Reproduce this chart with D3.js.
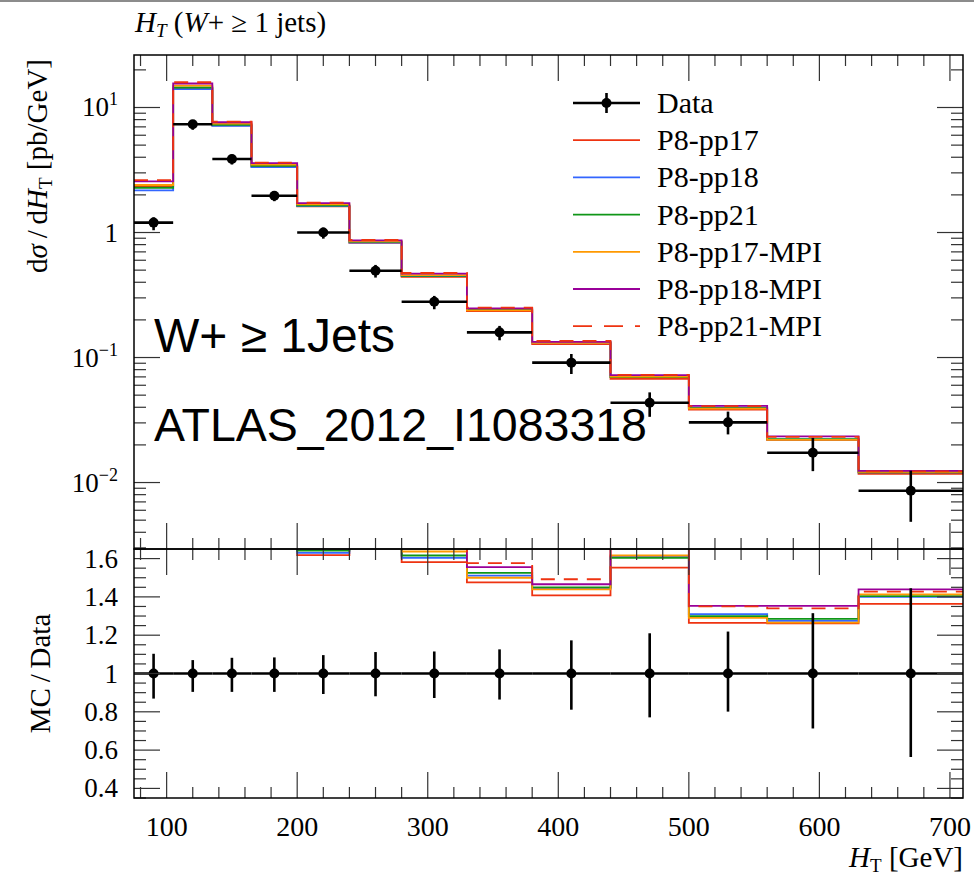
<!DOCTYPE html>
<html>
<head>
<meta charset="utf-8">
<script src="https://cdn.jsdelivr.net/npm/d3@7"></script>
<style>
body { margin: 0; background: #fff; }
text { font-family: "Liberation Serif", "DejaVu Serif", serif; fill: #000; }
</style>
</head>
<body>
<svg id="chart" width="974" height="876"></svg>
<script>
/* bins of H_T [GeV] */
var BIN_EDGES = [75, 105, 135, 165, 200, 240, 280, 330, 380, 440, 500, 560, 630, 710];

/* data, dsigma/dHT [pb/GeV] and relative errors */
var DATA_VALUES = [1.20, 7.34, 3.87, 1.97, 1.00, 0.495, 0.279, 0.159, 0.091, 0.0435, 0.0303, 0.0173, 0.0086];
var DATA_ERR_UP = [0.103, 0.070, 0.082, 0.084, 0.096, 0.112, 0.115, 0.126, 0.173, 0.210, 0.219, 0.315, 0.445];
var DATA_ERR_DOWN = [0.131, 0.096, 0.096, 0.096, 0.107, 0.119, 0.128, 0.136, 0.189, 0.229, 0.199, 0.287, 0.436];

/* MC / Data per bin */
var PP17 = [1.95, 1.95, 1.86, 1.71, 1.618, 1.67, 1.581, 1.476, 1.408, 1.553, 1.264, 1.262, 1.364];
var PP18 = [1.81, 1.91, 1.84, 1.69, 1.630, 1.68, 1.604, 1.511, 1.445, 1.610, 1.310, 1.275, 1.400];
var PP21 = [1.90, 1.97, 1.88, 1.73, 1.642, 1.70, 1.616, 1.525, 1.450, 1.604, 1.300, 1.285, 1.404];
var PP17_MPI = [2.00, 2.04, 1.92, 1.77, 1.68, 1.72, 1.637, 1.500, 1.439, 1.616, 1.290, 1.266, 1.413];
var PP18_MPI = [2.14, 2.12, 1.97, 1.82, 1.72, 1.75, 1.68, 1.555, 1.466, 1.66, 1.353, 1.353, 1.439];
var PP21_MPI = [2.19, 2.17, 1.99, 1.84, 1.73, 1.76, 1.70, 1.576, 1.492, 1.67, 1.350, 1.340, 1.427];

var SERIES_NAMES = ["P8-pp17", "P8-pp18", "P8-pp21", "P8-pp17-MPI", "P8-pp18-MPI", "P8-pp21-MPI"];
var SERIES_RATIOS = [PP17, PP18, PP21, PP17_MPI, PP18_MPI, PP21_MPI];
var SERIES_COLORS = ["#ee3311", "#3366ff", "#109618", "#ff9900", "#990099", "#ee3311"];
var SERIES_DASH = [null, null, null, null, null, "14,9"];

var X_TICK_LABELS = [100, 200, 300, 400, 500, 600, 700];
var MAIN_TICK_LABELS = [0.01, 0.1, 1, 10];
var RATIO_TICK_LABELS = [0.4, 0.6, 0.8, 1, 1.2, 1.4, 1.6];

var svg = d3.select("#chart");

var left = 134, right = 963;
var mainTop = 55, mainBottom = 549, ratioBottom = 798;

var x = d3.scaleLinear().domain([75, 710]).range([left, right]);
var y = d3.scaleLog().domain([0.00294, 26.3]).range([mainBottom, mainTop]);
var yr = d3.scaleLinear().domain([0.35, 1.65]).range([ratioBottom, mainBottom]);

/* top grey strip */
svg.append("rect").attr("x", 0).attr("y", 0).attr("width", 974).attr("height", 2).attr("fill", "#8c8c8c");

/* clip paths */
var defs = svg.append("defs");
defs.append("clipPath").attr("id", "clipMain").append("rect")
    .attr("x", left).attr("y", mainTop).attr("width", right - left).attr("height", mainBottom - mainTop);
defs.append("clipPath").attr("id", "clipRatio").append("rect")
    .attr("x", left).attr("y", mainBottom).attr("width", right - left).attr("height", ratioBottom - mainBottom);

function stepPoints(values) {
    var pts = [];
    values.forEach(function (v, i) {
        pts.push([BIN_EDGES[i], v]);
        pts.push([BIN_EDGES[i + 1], v]);
    });
    return pts;
}

/* big labels inside */
svg.append("text").attr("x", 154).attr("y", 352)
    .style("font-family", "'Liberation Sans', Arial, sans-serif").style("font-size", "48px").attr("fill", "#111")
    .text("W+ \u2265 1Jets");
svg.append("text").attr("x", 154).attr("y", 441)
    .style("font-family", "'Liberation Sans', Arial, sans-serif").style("font-size", "46.5px").attr("fill", "#111")
    .text("ATLAS_2012_I1083318");

/* MC histograms */
var gMain = svg.append("g").attr("clip-path", "url(#clipMain)");
var gRatio = svg.append("g").attr("clip-path", "url(#clipRatio)");

var mainLine = d3.line().x(function (d) { return x(d[0]); }).y(function (d) { return y(d[1]); });
var ratioLine = d3.line().x(function (d) { return x(d[0]); }).y(function (d) { return yr(d[1]); });

SERIES_RATIOS.forEach(function (ratios, s) {
    var abs = ratios.map(function (r, i) { return r * DATA_VALUES[i]; });
    gMain.append("path")
        .attr("d", mainLine(stepPoints(abs)))
        .attr("fill", "none").attr("stroke", SERIES_COLORS[s]).attr("stroke-width", 1.8)
        .attr("stroke-dasharray", SERIES_DASH[s]);
    gRatio.append("path")
        .attr("d", ratioLine(stepPoints(ratios)))
        .attr("fill", "none").attr("stroke", SERIES_COLORS[s]).attr("stroke-width", 1.8)
        .attr("stroke-dasharray", SERIES_DASH[s]);
});

/* data points */
DATA_VALUES.forEach(function (v, i) {
    var cx = x((BIN_EDGES[i] + BIN_EDGES[i + 1]) / 2);
    gMain.append("line").attr("x1", x(BIN_EDGES[i])).attr("x2", x(BIN_EDGES[i + 1]))
        .attr("y1", y(v)).attr("y2", y(v)).attr("stroke", "#000").attr("stroke-width", 2.6);
    gMain.append("line").attr("x1", cx).attr("x2", cx)
        .attr("y1", y(v * (1 + DATA_ERR_UP[i]))).attr("y2", y(v * (1 - DATA_ERR_DOWN[i])))
        .attr("stroke", "#000").attr("stroke-width", 2.6);
    gMain.append("circle").attr("cx", cx).attr("cy", y(v)).attr("r", 5).attr("fill", "#000");

    gRatio.append("line").attr("x1", x(BIN_EDGES[i])).attr("x2", x(BIN_EDGES[i + 1]))
        .attr("y1", yr(1)).attr("y2", yr(1)).attr("stroke", "#000").attr("stroke-width", 2.6);
    gRatio.append("line").attr("x1", cx).attr("x2", cx)
        .attr("y1", yr(1 + DATA_ERR_UP[i])).attr("y2", yr(1 - DATA_ERR_DOWN[i]))
        .attr("stroke", "#000").attr("stroke-width", 2.6);
    gRatio.append("circle").attr("cx", cx).attr("cy", yr(1)).attr("r", 5).attr("fill", "#000");
});

/* ticks */
var gTicks = svg.append("g").attr("stroke", "#333").attr("stroke-width", 1.2);

function xTicks(yPos, dir) {
    d3.range(80, 711, 20).forEach(function (v) {
        var len = (v % 100 === 0) ? 26 : 11;
        gTicks.append("line").attr("x1", x(v)).attr("x2", x(v))
            .attr("y1", yPos).attr("y2", yPos + dir * len);
    });
}
xTicks(mainTop, 1);
xTicks(mainBottom, -1);
xTicks(mainBottom, 1);
xTicks(ratioBottom, -1);

function yTicks(scale, values) {
    values.forEach(function (t) {
        var len = t.major ? 26 : 12;
        gTicks.append("line").attr("x1", left).attr("x2", left + len)
            .attr("y1", scale(t.v)).attr("y2", scale(t.v));
        gTicks.append("line").attr("x1", right).attr("x2", right - len)
            .attr("y1", scale(t.v)).attr("y2", scale(t.v));
    });
}

var logTicks = [];
[-3, -2, -1, 0, 1].forEach(function (p) {
    for (var k = 1; k <= 9; k++) {
        var v = k * Math.pow(10, p);
        if (v >= 0.00294 && v <= 26.3) logTicks.push({ v: v, major: k === 1 });
    }
});
yTicks(y, logTicks);

var linTicks = d3.range(0, 27).map(function (i) {
    var v = 0.35 + i * 0.05;
    return { v: v, major: Math.abs(Math.round(v * 10) - v * 10) < 1e-6 && Math.round(v * 10) % 2 === 0 };
});
yTicks(yr, linTicks);

/* frames */
svg.append("rect").attr("x", left).attr("y", mainTop).attr("width", right - left).attr("height", mainBottom - mainTop)
    .attr("fill", "none").attr("stroke", "#000").attr("stroke-width", 1.5);
svg.append("rect").attr("x", left).attr("y", mainBottom).attr("width", right - left).attr("height", ratioBottom - mainBottom)
    .attr("fill", "none").attr("stroke", "#000").attr("stroke-width", 1.5);

/* tick labels */
X_TICK_LABELS.forEach(function (v) {
    svg.append("text").attr("x", x(v)).attr("y", 836).attr("text-anchor", "middle")
        .style("font-size", "28px").text(v);
});

MAIN_TICK_LABELS.forEach(function (v) {
    var p = Math.round(Math.log10(v));
    var t = svg.append("text").attr("x", 118).attr("y", y(v) + 9).attr("text-anchor", "end").style("font-size", "27px");
    if (p === 0) {
        t.text("1");
    } else {
        t.append("tspan").text("10");
        t.append("tspan").attr("dy", -11).style("font-size", "18px").text(p < 0 ? "\u2212" + (-p) : String(p));
    }
});

RATIO_TICK_LABELS.forEach(function (v) {
    svg.append("text").attr("x", 118).attr("y", yr(v) + 9).attr("text-anchor", "end")
        .style("font-size", "27px").text(v === 1 ? "1" : v.toFixed(1));
});

/* titles */
var title = svg.append("text").attr("x", 135).attr("y", 32).style("font-size", "29px");
title.append("tspan").style("font-style", "italic").text("H");
title.append("tspan").style("font-style", "italic").style("font-size", "19px").attr("dy", 5).text("T");
title.append("tspan").attr("dy", -5).text(" (");
title.append("tspan").style("font-style", "italic").text("W");
title.append("tspan").text("+ \u2265 1 jets)");

var yTitle = svg.append("text").attr("transform", "translate(47,59) rotate(-90)")
    .attr("text-anchor", "end").style("font-size", "29px");
yTitle.append("tspan").text("d");
yTitle.append("tspan").style("font-style", "italic").text("\u03c3");
yTitle.append("tspan").text("\u2009/\u2009d");
yTitle.append("tspan").style("font-style", "italic").text("H");
yTitle.append("tspan").style("font-size", "19px").attr("dy", 5).text("T");
yTitle.append("tspan").attr("dy", -5).text(" [pb/GeV]");

svg.append("text").attr("transform", "translate(50," + yr(1) + ") rotate(-90)")
    .attr("text-anchor", "middle").style("font-size", "29px").text("MC\u2009/\u2009Data");

var xTitle = svg.append("text").attr("x", right).attr("y", 867).attr("text-anchor", "end").style("font-size", "29px");
xTitle.append("tspan").style("font-style", "italic").text("H");
xTitle.append("tspan").style("font-size", "19px").attr("dy", 5).text("T");
xTitle.append("tspan").attr("dy", -5).text(" [GeV]");

/* legend */
var legend = svg.append("g");
var rowY = function (i) { return 103 + i * 37.2; };
legend.append("line").attr("x1", 573).attr("x2", 640).attr("y1", rowY(0)).attr("y2", rowY(0))
    .attr("stroke", "#000").attr("stroke-width", 2.6);
legend.append("line").attr("x1", 606.5).attr("x2", 606.5).attr("y1", rowY(0) - 10).attr("y2", rowY(0) + 10)
    .attr("stroke", "#000").attr("stroke-width", 2.6);
legend.append("circle").attr("cx", 606.5).attr("cy", rowY(0)).attr("r", 5).attr("fill", "#000");
legend.append("text").attr("x", 657).attr("y", rowY(0) + 10).style("font-size", "30px").text("Data");

SERIES_NAMES.forEach(function (name, s) {
    var yy = rowY(s + 1);
    legend.append("line").attr("x1", 573).attr("x2", 640).attr("y1", yy).attr("y2", yy)
        .attr("stroke", SERIES_COLORS[s]).attr("stroke-width", 1.8)
        .attr("stroke-dasharray", SERIES_DASH[s] ? "19,12" : null);
    legend.append("text").attr("x", 657).attr("y", yy + 10).style("font-size", "30px").text(name);
});
</script>
</body>
</html>
